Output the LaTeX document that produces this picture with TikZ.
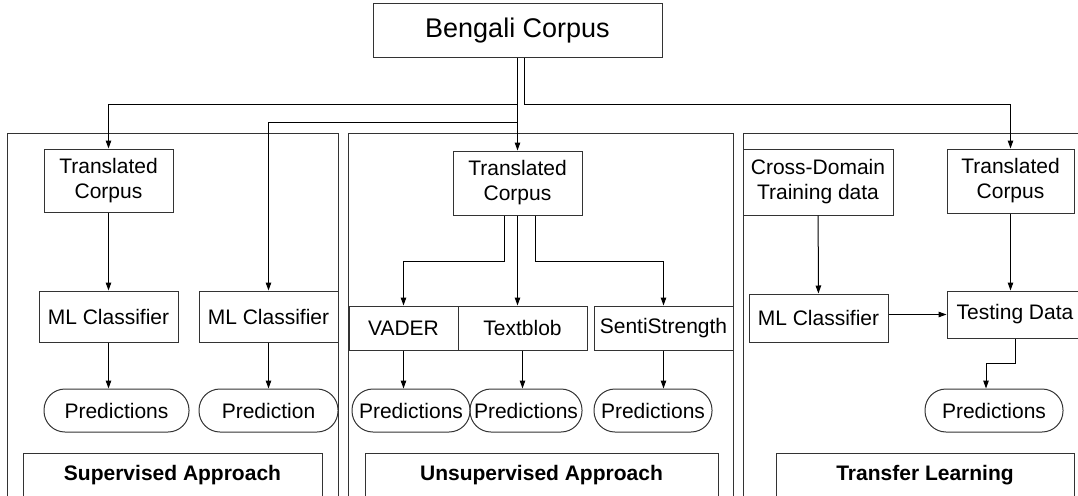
\documentclass[tikz,border=0pt]{standalone}
\usepackage{fontspec}
\setmainfont{Liberation Sans}
\usetikzlibrary{arrows.meta}

\begin{document}
\begin{tikzpicture}[x=1pt,y=-1pt,
    line width=1pt,
    font=\fontsize{21}{25}\selectfont,
    box/.style={draw=black!80, inner sep=2pt, align=center},
    pill/.style={draw=black!80, inner sep=2pt, rounded corners=21pt, minimum height=43pt},
    title/.style={draw=black!80, anchor=north, inner sep=0pt, text height=26.5pt, text depth=40pt, font=\fontsize{21}{25}\selectfont\bfseries},
    arr/.style={-{Triangle[length=8pt,width=5.5pt]}, black}]
    \useasboundingbox (0,0) rectangle (1078,495);

    % Top
    \node[box, minimum width=289pt, minimum height=54pt, font=\fontsize{27}{32}\selectfont] (corpus) at (517.5,31) {Bengali Corpus};

    % Panels
    \draw[black!80] (7,520) -- (7,133) -- (338,133) -- (338,520);
    \draw[black!80] (348,520) -- (348,133) -- (733,133) -- (733,520);
    \draw[black!80] (743,520) -- (743,133) -- (1090,133);

    % Supervised
    \node[box, minimum width=129pt, minimum height=63pt] (tcA) at (108.5,180.5) {Translated\\Corpus};
    \node[box, minimum width=139pt, minimum height=51pt] (mlA) at (108.5,316.5) {ML Classifier};
    \node[box, minimum width=139pt, minimum height=51pt] (mlB) at (268.5,316.5) {ML Classifier};
    \node[pill, minimum width=145pt] (predA) at (116.5,410.5) {Predictions};
    \node[pill, minimum width=139pt] (predB) at (268.5,410.5) {Prediction};
    \node[title, minimum width=299pt] (sup) at (172.5,453) {Supervised Approach};

    % Unsupervised
    \node[box, minimum width=129pt, minimum height=64pt] (tcB) at (517.5,183) {Translated\\Corpus};
    \node[box, minimum width=109pt, minimum height=44pt] (vader) at (403.5,328) {VADER};
    \node[box, minimum width=129pt, minimum height=44pt] (textblob) at (522.5,328) {Textblob};
    \node[box, minimum width=139pt, minimum height=44pt] (senti) at (663.5,328) {SentiStrength};
    \node[pill, minimum width=118pt] (predC) at (411,410.5) {Predictions};
    \node[pill, minimum width=112pt] (predD) at (526,410.5) {Predictions};
    \node[pill, minimum width=118pt] (predE) at (653,410.5) {Predictions};
    \node[title, minimum width=353pt] (unsup) at (541.5,453) {Unsupervised Approach};

    % Transfer
    \node[box, minimum width=150pt, minimum height=66pt] (cross) at (818,182) {Cross-Domain\\Training data};
    \node[box, minimum width=127pt, minimum height=64pt] (tcC) at (1010.5,181) {Translated\\Corpus};
    \node[box, minimum width=139pt, minimum height=48pt] (mlC) at (818.5,318) {ML Classifier};
    \node[box, minimum width=136pt, minimum height=47pt] (testing) at (1015,314.5) {Testing Data};
    \node[pill, minimum width=138pt] (predF) at (994,410.5) {Predictions};
    \node[title, minimum width=298pt] (transfer) at (925,453) {Transfer Learning};

    % Connections
    \coordinate (splitL) at (517.5,104);
    \coordinate (splitM) at (517.5,122);
    \draw[arr] (corpus.south) -- (tcB.north);
    \draw[arr] (splitL) -| (tcA.north);
    \draw[arr] (splitM) -| (mlB.north);
    \draw[arr] ([xshift=6.5pt]corpus.south) -- ++(0,46) -| (tcC.north);

    \draw[arr] (tcA) -- (mlA);
    \draw[arr] (mlA.south) -- (mlA.south |- predA.north);
    \draw[arr] (mlB) -- (predB);

    \draw[arr] ([xshift=-13.5pt]tcB.south) -- ++(0,46) -| (vader.north);
    \draw[arr] (tcB.south) -- (tcB.south |- textblob.north);
    \draw[arr] ([xshift=17.5pt]tcB.south) -- ++(0,46) -| (senti.north);
    \draw[arr] (vader.south) -- (vader.south |- predC.north);
    \draw[arr] (textblob.south) -- (textblob.south |- predD.north);
    \draw[arr] (senti.south) -- (senti.south |- predE.north);

    \draw[arr] (cross) -- (mlC);
    \draw[arr] (tcC.south) -- (tcC.south |- testing.north);
    \draw[arr] (testing.west -| mlC.east) -- (testing.west);
    \draw[arr] (testing.south) -- ++(0,25) -| ([xshift=-8pt]predF.north);
\end{tikzpicture}
\end{document}
